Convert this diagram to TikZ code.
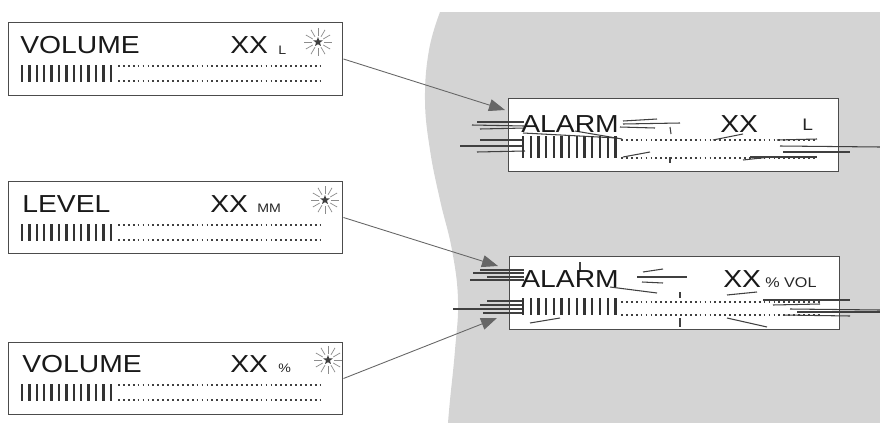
\documentclass[tikz,border=0pt]{standalone}
\usepackage{fontspec}
\newfontfamily\lcdfont[FakeStretch=1.15]{Liberation Sans}
\usetikzlibrary{arrows.meta, shapes.geometric}

\begin{document}
\begin{tikzpicture}[x=0.02cm, y=-0.02cm,
    lcd/.style={draw=black!70, line width=0.6pt, fill=white, inner sep=0,
      minimum width=6.7cm, minimum height=1.45cm},
    big/.style={font=\lcdfont\fontsize{14}{16}\selectfont, text=black!90,
      anchor=base west, inner sep=0},
    unit/.style={font=\lcdfont\fontsize{7}{8}\selectfont, text=black!85,
      anchor=base west, inner sep=0},
    tick/.style={line width=1.3pt, black!80},
    dots/.style={line width=1.3pt, black!75, dash pattern=on 1pt off 1.8pt},
    flash/.style={line width=0.6pt, black!75},
    ray/.style={line width=0.4pt, black!45},
    blink/.style={star, star points=5, star point ratio=2.4, fill=black!75,
      inner sep=0, minimum size=0.2cm},
    link/.style={-{Triangle[length=0.32cm, width=0.24cm]}, black!60,
      line width=0.5pt}]
  \useasboundingbox (0,0) rectangle (880,423);

  % grey sheet behind the alarm displays
  \fill[black!17] plot[smooth, tension=0.7] coordinates {(440,12) (429,50)
      (425,100) (430,150) (440,200) (452,250) (458,300) (455,350) (450,400)
      (448,423)} -- (880,423) -- (880,12) -- cycle;

  % displays
  \node[lcd] (vol) at (175.5,59) {};
  \node[lcd] (lev) at (175.5,217.5) {};
  \node[lcd] (pct) at (175.5,378.5) {};
  \node[lcd, minimum width=6.62cm] (almL) at (673.5,135) {};
  \node[lcd, minimum width=6.62cm] (almV) at (674.5,293) {};

  % flashing lines round the alarms
  \foreach \xa/\ya/\xb/\yb in {477/122/524/122, 472/125/524/126,
      480/129/525/128, 480/140/522/140, 460/146/522/146, 477/152/525/151,
      623/121/657/119, 623/124/680/123, 620/127/655/128, 575/131/622/139,
      523/133/617/138, 670/127/671/134, 670/157/670/163, 623/157/650/152,
      713/140/743/134, 777/140/817/139, 780/146/880/147, 783/152/850/152,
      750/157/817/157, 743/160/770/157}
    \draw[flash] (\xa,\ya) -- (\xb,\yb);
  \foreach \xa/\ya/\xb/\yb in {480/270/524/270, 473/273/524/273,
      487/277/524/277, 470/280/524/280, 487/301/522/301, 480/305/522/305,
      453/309/522/309, 483/313/522/313, 580/262/580/272, 637/277/687/277,
      643/272/663/269, 642/282/663/283, 610/287/657/293, 680/292/680/298,
      680/318/680/327, 727/295/757/292, 530/323/560/318, 727/318/767/327,
      763/300/850/300, 773/305/820/304, 790/309/880/310, 783/315/850/316,
      797/312/880/312}
    \draw[flash] (\xa,\ya) -- (\xb,\yb);

  % texts
  \node[big] (t1) at (20,53) {VOLUME};
  \node[big] (x1) at (230,53) {XX};
  \node[unit] (u1) at (278,54) {L};
  \node[big] (t2) at (22,212) {LEVEL};
  \node[big] (x2) at (210,212) {XX};
  \node[unit] (u2) at (257,212) {MM};
  \node[big] (t3) at (22,372) {VOLUME};
  \node[big] (x3) at (230,372) {XX};
  \node[unit] (u3) at (278,372) {\%};
  \node[big] (aL) at (521,132) {ALARM};
  \node[big] (xL) at (720,132) {XX};
  \node[unit, font=\lcdfont\fontsize{9.5}{10}\selectfont] (uL) at (802,130) {L};
  \node[big] (aV) at (521,287) {ALARM};
  \node[big] (xV) at (723,287) {XX};
  \node[unit, font=\lcdfont\fontsize{8}{9}\selectfont] (uV) at (765,287) {\% VOL};

  % bar graphs
  \foreach \y/\ya/\x/\xe in {65/82/22/322, 224/241/22/322, 384/401/22/322} {
    \foreach \i in {0,...,12}
      \draw[tick] ({\x+7.4*\i},\y) -- ({\x+7.4*\i},\ya);
    \draw[dots] (118,\y+1) -- (\xe,\y+1);
    \draw[dots] (118,\ya-1) -- (\xe,\ya-1);
  }
  \foreach \y/\ya/\xe in {136/158/816, 298/315/820} {
    \foreach \i in {0,...,12}
      \draw[tick] ({523+7.7*\i},\y) -- ({523+7.7*\i},\ya);
    \draw[dots] (621,\y+4) -- (\xe,\y+4);
    \draw[dots] (621,\ya) -- (\xe,\ya);
  }

  % blinking stars
  \node[blink] (s1) at (318,42) {};
  \node[blink] (s2) at (325,200) {};
  \node[blink] (s3) at (328,360) {};
  \foreach \s in {s1,s2,s3}
    \foreach \a in {0,30,...,330}
      \draw[ray] (\s) ++(\a:6) -- ++(\a:8);

  % links
  \coordinate (p1) at (505,110);
  \coordinate (p2) at (498,266);
  \coordinate (p3) at (497,318);
  \path[link] (vol.east) edge (p1)
              (lev.east) edge (p2)
              (pct.east) edge (p3);
\end{tikzpicture}
\end{document}
